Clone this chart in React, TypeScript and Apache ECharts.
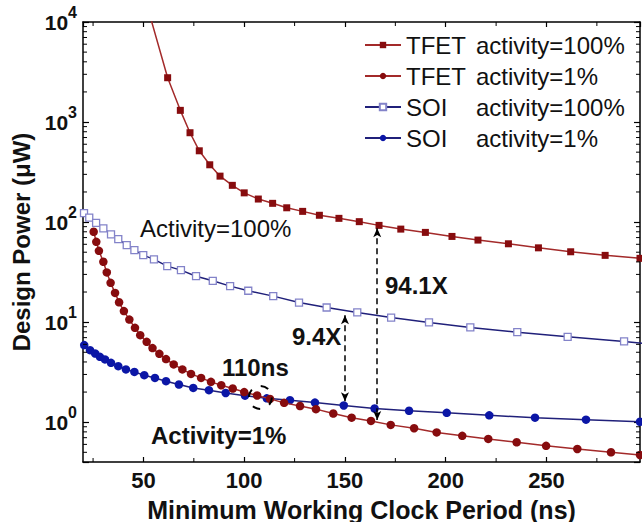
import React, { useEffect, useRef } from 'react';
import * as echarts from 'echarts';

const FONT = "'Liberation Sans', Arial, Helvetica, sans-serif";

// Axis ranges
const X_MIN = 20;
const X_MAX = 296.4;
const Y_MIN = 0.4;
const Y_MAX = 10000;

// Series names
const NAMES = ['TFET activity=100%', 'TFET activity=1%', 'SOI activity=100%', 'SOI activity=1%'];

// TFET, activity = 100%
const tfet100X = [53, 62.0, 68.3, 73.1, 77.7, 82.9, 88.0, 94.1, 100.0, 107.0, 114.1, 121.1, 129.0, 137.3, 147.0, 157.1, 166.9, 177.7, 189.9, 203.1, 216.0, 231.1, 246.0, 262.0, 279.1, 296.4];
const tfet100Y = [12000, 2773, 1309, 782, 516, 374, 288, 233, 196, 170, 154, 139, 128, 117, 109, 101, 92.7, 85.1, 78.9, 71.9, 66.1, 60.7, 55.3, 50.5, 46.5, 43.4];

// TFET, activity = 1%
const tfet1X = [25.3, 26.6, 27.9, 30.1, 31.8, 33.7, 35.9, 37.9, 40.3, 43.0, 45.8, 48.4, 51.6, 54.5, 57.9, 61.2, 65.0, 69.3, 73.6, 78.6, 83.5, 88.6, 94.3, 100.0, 106.4, 112.8, 119.8, 127.7, 135.6, 144.2, 153.3, 162.9, 172.7, 184.3, 195.5, 208.2, 221.1, 235.2, 249.8, 265.3, 282.0, 296.4];
const tfet1Y = [80.0, 63.5, 51.6, 40.1, 31.4, 24.7, 19.6, 15.8, 12.9, 10.6, 8.77, 7.41, 6.35, 5.50, 4.82, 4.27, 3.78, 3.37, 3.04, 2.77, 2.53, 2.34, 2.17, 2.0, 1.85, 1.71, 1.56, 1.45, 1.35, 1.22, 1.11, 1.03, 0.94, 0.87, 0.79, 0.73, 0.68, 0.63, 0.58, 0.54, 0.50, 0.47];

// SOI, activity = 100%
const soi100X = [20.5, 23.1, 26.5, 30.1, 33.9, 37.5, 41.7, 45.5, 49.9, 55.2, 61.8, 68.6, 76.1, 84.4, 93.0, 102.0, 114.4, 127.2, 140.9, 156.1, 172.9, 191.7, 212.2, 235.5, 260.5, 288.5, 300];
const soi100Y = [123, 111, 98.4, 86.5, 75.3, 67.6, 58.9, 52.5, 46.8, 42.4, 36.3, 33.1, 28.8, 25.9, 22.9, 20.6, 18.2, 15.7, 14.0, 12.5, 11.1, 9.93, 8.85, 7.94, 7.13, 6.41, 6.1];

// SOI, activity = 1%
const soi1X = [20.6, 23.5, 26.0, 28.4, 30.9, 33.9, 37.5, 41.3, 45.5, 50.4, 55.7, 61.2, 67.6, 74.7, 82.5, 90.8, 100.4, 111.2, 122.7, 135.1, 149.4, 164.7, 181.8, 200.5, 221.6, 244.3, 269.6, 296.4];
const soi1Y = [5.9, 5.25, 4.86, 4.50, 4.24, 3.92, 3.63, 3.37, 3.18, 2.95, 2.77, 2.57, 2.38, 2.20, 2.09, 1.96, 1.84, 1.73, 1.66, 1.57, 1.47, 1.37, 1.30, 1.24, 1.17, 1.11, 1.06, 1.01];

// Annotation arrows (x, top value, bottom value)
const ARROW_SOI = [150, 11.7, 1.62];
const ARROW_TFET = [166, 87, 1.05];
// Crossing point marker
const CROSS = [108, 1.77];

// Minor tick positions
const X_MINOR = [25, 75, 125, 175, 225, 275];
const Y_MINOR_MANTISSA = [2, 3, 4, 5, 6, 7, 8, 9];
const Y_DECADES = [0.1, 1, 10, 100, 1000];

const pairs = (xs: number[], ys: number[]) => xs.map((x, i) => [x, ys[i]]);

const TFET_MARK = '#870c0e';
const TFET_LINE = '#a32a2a';
const SOI_LINE = '#20207a';
const SOI_MARK = '#0b16a6';
const SOI_OPEN = '#8383c9';

export default function App() {
  const ref = useRef<HTMLDivElement>(null);
  useEffect(() => {
    const chart = echarts.init(ref.current!, null, { renderer: 'svg' });

    const yMinor: number[][] = [];
    Y_DECADES.forEach((d) => {
      Y_MINOR_MANTISSA.forEach((m) => {
        const v = d * m;
        if (v > Y_MIN && v < Y_MAX) yMinor.push([X_MIN, v, 0]);
      });
    });
    const xMinor = X_MINOR.map((v) => [v, 1, 1]);

    const axisLine = { show: true, lineStyle: { color: '#000', width: 1.5 } };
    const axisTick = { show: true, inside: true, length: 5, lineStyle: { color: '#000', width: 1.2 } };

    const option: any = {
      animation: false,
      backgroundColor: '#fff',
      textStyle: { fontFamily: FONT },
      grid: { left: 83, right: 2, top: 22, bottom: 60, containLabel: false, outerBoundsMode: 'none' },
      legend: {
        orient: 'vertical',
        left: 359,
        top: 28,
        itemWidth: 36,
        itemHeight: 8,
        itemGap: 7,
        selectedMode: false,
        data: NAMES,
        formatter: (name: string) => {
          const i = name.indexOf(' ');
          return `{a|${name.slice(0, i)}}{b|${name.slice(i + 1)}}`;
        },
        textStyle: {
          fontFamily: FONT,
          fontSize: 24,
          color: '#111',
          rich: {
            a: { width: 70, fontSize: 24, fontFamily: FONT, color: '#111' },
            b: { fontSize: 24, fontFamily: FONT, color: '#111' },
          },
        },
      },
      xAxis: [
        {
          type: 'value',
          min: X_MIN,
          max: X_MAX,
          splitNumber: 5,
          position: 'bottom',
          splitLine: { show: false },
          axisLine,
          axisTick,
          axisLabel: {
            showMinLabel: false,
            showMaxLabel: false,
            margin: 7,
            fontSize: 22,
            fontWeight: 'bold',
            color: '#111',
            fontFamily: FONT,
            formatter: (v: number) => (Math.abs(v % 50) < 1e-6 ? String(v) : ''),
          },
          name: 'Minimum Working Clock Period (ns)',
          nameLocation: 'middle',
          nameGap: 35,
          nameTextStyle: { fontSize: 25, fontWeight: 'bold', color: '#111', fontFamily: FONT },
        },
        {
          type: 'value',
          min: X_MIN,
          max: X_MAX,
          splitNumber: 5,
          position: 'top',
          splitLine: { show: false },
          axisLine,
          axisTick,
          axisLabel: { show: false },
        },
      ],
      yAxis: [
        {
          type: 'log',
          logBase: 10,
          min: Y_MIN,
          max: Y_MAX,
          position: 'left',
          splitLine: { show: false },
          axisLine,
          axisTick: { ...axisTick, length: 6 },
          axisLabel: {
            margin: 6,
            color: '#111',
            fontFamily: FONT,
            formatter: (v: number) => {
              const l = Math.log10(v);
              const e = Math.round(l);
              if (Math.abs(l - e) > 1e-6) return '';
              return `{b|10}{s|${e}}`;
            },
            rich: {
              b: { fontSize: 21, fontWeight: 'bold', lineHeight: 36, fontFamily: FONT, color: '#111' },
              s: { fontSize: 16, fontWeight: 'bold', lineHeight: 16, verticalAlign: 'top', fontFamily: FONT, color: '#111' },
            },
          },
          name: 'Design Power (\u03bcW)',
          nameLocation: 'middle',
          nameGap: 48,
          nameTextStyle: { fontSize: 24, fontWeight: 'bold', color: '#111', fontFamily: FONT },
        },
        {
          type: 'log',
          logBase: 10,
          min: Y_MIN,
          max: Y_MAX,
          position: 'right',
          splitLine: { show: false },
          axisLine,
          axisTick: { ...axisTick, length: 6 },
          axisLabel: { show: false },
        },
      ],
      graphic: [
        { type: 'text', x: 140, y: 228, style: { text: 'Activity=100%', fontSize: 24, fontFamily: FONT, fill: '#111', verticalAlign: 'middle' } },
        { type: 'text', x: 385, y: 285, style: { text: '94.1X', fontSize: 24, fontWeight: 'bold', fontFamily: FONT, fill: '#111', verticalAlign: 'middle' } },
        { type: 'text', x: 292, y: 336, style: { text: '9.4X', fontSize: 24, fontWeight: 'bold', fontFamily: FONT, fill: '#111', verticalAlign: 'middle' } },
        { type: 'text', x: 222, y: 367, style: { text: '110ns', fontSize: 24, fontWeight: 'bold', fontFamily: FONT, fill: '#111', verticalAlign: 'middle' } },
        { type: 'text', x: 151, y: 435, style: { text: 'Activity=1%', fontSize: 24, fontWeight: 'bold', fontFamily: FONT, fill: '#111', verticalAlign: 'middle' } },
      ],
      series: [
        {
          name: NAMES[0],
          type: 'line',
          data: pairs(tfet100X, tfet100Y),
          symbol: 'rect',
          symbolSize: 7,
          clip: true,
          itemStyle: { color: TFET_MARK },
          lineStyle: { color: TFET_LINE, width: 1.5 },
          z: 3,
        },
        {
          name: NAMES[1],
          type: 'line',
          data: pairs(tfet1X, tfet1Y),
          symbol: 'circle',
          symbolSize: 8.5,
          clip: true,
          itemStyle: { color: TFET_MARK },
          lineStyle: { color: TFET_LINE, width: 1.5 },
          z: 3,
          markPoint: {
            silent: true,
            symbol: 'circle',
            symbolSize: 23,
            label: { show: false },
            itemStyle: {
              color: 'rgba(0,0,0,0)',
              borderColor: '#000',
              borderWidth: 2,
              borderType: [8, 10],
              borderDashOffset: 4,
            },
            data: [{ coord: CROSS }],
          },
        },
        {
          name: NAMES[2],
          type: 'line',
          data: pairs(soi100X, soi100Y),
          symbol: 'rect',
          symbolSize: 7,
          clip: true,
          itemStyle: { color: '#fff', borderColor: SOI_OPEN, borderWidth: 1.3 },
          lineStyle: { color: SOI_LINE, width: 1.5 },
          z: 2,
        },
        {
          name: NAMES[3],
          type: 'line',
          data: pairs(soi1X, soi1Y),
          symbol: 'circle',
          symbolSize: 8.5,
          clip: true,
          itemStyle: { color: SOI_MARK },
          lineStyle: { color: SOI_LINE, width: 1.5 },
          z: 2,
          markLine: {
            silent: true,
            symbol: ['arrow', 'arrow'],
            symbolSize: [6, 9],
            label: { show: false },
            lineStyle: { color: '#000', type: [6, 4], width: 1.5 },
            data: [
              [{ coord: [ARROW_SOI[0], ARROW_SOI[1]] }, { coord: [ARROW_SOI[0], ARROW_SOI[2]] }],
              [{ coord: [ARROW_TFET[0], ARROW_TFET[1]] }, { coord: [ARROW_TFET[0], ARROW_TFET[2]] }],
            ],
          },
        },
        {
          name: 'minorTicks',
          type: 'custom',
          silent: true,
          clip: false,
          z: 10,
          data: [...yMinor, ...xMinor],
          renderItem: (params: any, api: any) => {
            const kind = api.value(2);
            const st = { stroke: '#000', lineWidth: 1 };
            if (kind === 0) {
              const v = api.value(1);
              const pl = api.coord([X_MIN, v]);
              const pr = api.coord([X_MAX, v]);
              return {
                type: 'group',
                children: [
                  { type: 'line', shape: { x1: pl[0], y1: pl[1], x2: pl[0] + 4, y2: pl[1] }, style: st },
                  { type: 'line', shape: { x1: pr[0] - 4, y1: pr[1], x2: pr[0], y2: pr[1] }, style: st },
                ],
              };
            }
            const x = api.value(0);
            const pb = api.coord([x, Y_MIN]);
            const pt = api.coord([x, Y_MAX]);
            return {
              type: 'group',
              children: [
                { type: 'line', shape: { x1: pb[0], y1: pb[1], x2: pb[0], y2: pb[1] - 4 }, style: st },
                { type: 'line', shape: { x1: pt[0], y1: pt[1], x2: pt[0], y2: pt[1] + 4 }, style: st },
              ],
            };
          },
        },
      ],
    };

    chart.setOption(option);
    return () => chart.dispose();
  }, []);

  return (
    <div
      ref={ref}
      style={{ position: 'fixed', left: 0, top: 0, width: 642, height: 522, background: '#fff' }}
    />
  );
}
